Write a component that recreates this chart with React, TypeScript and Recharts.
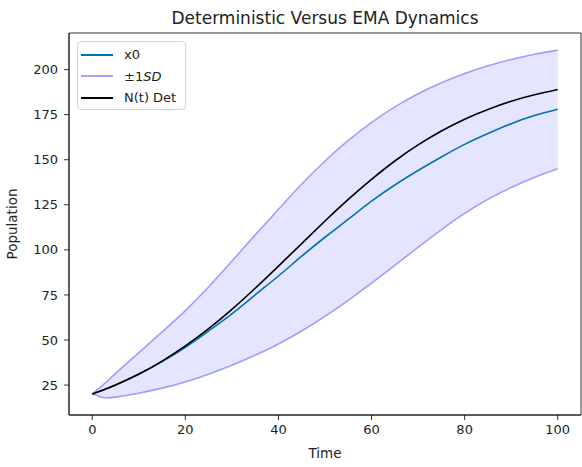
import React from "react";
import {
  ComposedChart,
  Area,
  Line,
  XAxis,
  YAxis,
  ReferenceArea,
} from "recharts";

// values
const times = [0, 2.5, 5, 10, 15, 20, 25, 30, 35, 40, 45, 50, 55, 60, 65, 70, 75, 80, 85, 90, 95, 100];
const detValues = [20, 22.4, 25, 31.1, 38.3, 46.7, 56.3, 67, 78.7, 91, 103.5, 116, 128, 139.1, 149.3, 158.2, 165.9, 172.5, 177.9, 182.4, 186, 189];
const x0Values = [20, 22.4, 25, 31, 38, 46, 55, 64.5, 75, 85.5, 96.5, 107, 117, 127, 136, 144, 151.5, 158.5, 164.5, 170, 174.5, 178];
const upperValues = [20, 25.5, 31.5, 43, 54.5, 66.3, 79.5, 93.8, 108.3, 122.5, 136.5, 149.3, 160.7, 170.7, 179.3, 186.6, 192.7, 197.8, 202.1, 205.6, 208.5, 210.8];
const lowerValues = [20, 18, 18.3, 20.5, 23.3, 26.7, 31, 36, 41.5, 47.8, 55, 63.1, 72, 81.5, 91.4, 101.4, 111.1, 120.2, 128, 134.6, 140.2, 145];

const xTicks = [0, 20, 40, 60, 80, 100];
const yTicks = [25, 50, 75, 100, 125, 150, 175, 200];

const X_DOMAIN: [number, number] = [-5, 105];
const Y_DOMAIN: [number, number] = [8.4, 220.3];

const BLUE = "#0173b2";
const BAND = "#0000ff";

const rows = times.map((t, i) => ({
  t,
  x0: x0Values[i],
  det: detValues[i],
  hi: upperValues[i],
  lo: lowerValues[i],
  band: [lowerValues[i], upperValues[i]],
}));

const font = "'DejaVu Sans', sans-serif";
const tickStyle = { fill: "#222", fontSize: 13, fontFamily: font };

function Handle({ color, opacity = 1 }: { color: string; opacity?: number }) {
  return (
    <svg width={32} height={4} style={{ display: "block" }}>
      <line x1={0} y1={2} x2={32} y2={2} stroke={color} strokeOpacity={opacity} strokeWidth={2} />
    </svg>
  );
}

function LegendBox() {
  const items = [
    { key: "x0", color: BLUE, opacity: 1, label: <span>x0</span> },
    {
      key: "sd",
      color: BAND,
      opacity: 0.35,
      label: (
        <span>
          ±1<i>SD</i>
        </span>
      ),
    },
    { key: "det", color: "#000", opacity: 1, label: <span>N(t) Det</span> },
  ];
  return (
    <div
      style={{
        position: "absolute",
        left: 77,
        top: 41,
        width: 107,
        height: 65,
        border: "1px solid #d5d5d5",
        borderRadius: 4,
        background: "rgba(255,255,255,0.8)",
        fontFamily: font,
        fontSize: 13,
        color: "#222",
        paddingTop: 2,
        boxSizing: "content-box",
      }}
    >
      {items.map((it) => (
        <div
          key={it.key}
          style={{ display: "flex", alignItems: "center", height: 21.5, paddingLeft: 3 }}
        >
          <Handle color={it.color} opacity={it.opacity} />
          <div style={{ marginLeft: 11 }}>{it.label}</div>
        </div>
      ))}
    </div>
  );
}

export default function App() {
  return (
    <div
      style={{
        position: "absolute",
        left: 0,
        top: 0,
        width: 582,
        height: 467,
        background: "#fff",
        fontFamily: font,
      }}
    >
      <div
        style={{
          position: "absolute",
          top: 8,
          left: 69,
          width: 512,
          textAlign: "center",
          fontSize: 17,
          color: "#222",
        }}
      >
        Deterministic Versus EMA Dynamics
      </div>
      <ComposedChart
        width={582}
        height={467}
        data={rows}
        margin={{ top: 33, right: 1, bottom: 0, left: 0 }}
      >
        <XAxis
          dataKey="t"
          type="number"
          domain={X_DOMAIN}
          ticks={xTicks}
          allowDataOverflow
          height={52}
          tickSize={5}
          tickMargin={5}
          tick={tickStyle}
          axisLine={{ stroke: "#000", strokeWidth: 0.8 }}
          tickLine={{ stroke: "#000", strokeWidth: 0.8 }}
          label={{ value: "Time", position: "insideBottom", offset: 9, fill: "#222", fontSize: 13.5, fontFamily: font }}
        />
        <YAxis
          type="number"
          domain={Y_DOMAIN}
          ticks={yTicks}
          allowDataOverflow
          width={69}
          tickSize={5}
          tickMargin={6}
          tick={tickStyle}
          axisLine={{ stroke: "#000", strokeWidth: 0.8 }}
          tickLine={{ stroke: "#000", strokeWidth: 0.8 }}
          label={{
            value: "Population",
            angle: -90,
            position: "insideLeft",
            offset: 12,
            style: { textAnchor: "middle" },
            fill: "#222",
            fontSize: 13.5,
            fontFamily: font,
          }}
        />

        {/* shaded ±1 SD band */}
        <Area
          dataKey="band"
          type="natural"
          stroke="none"
          fill={BAND}
          fillOpacity={0.1}
          isAnimationActive={false}
        />
        <Line dataKey="hi" type="natural" stroke={BAND} strokeOpacity={0.35} strokeWidth={1.6} dot={false} isAnimationActive={false} />
        <Line dataKey="lo" type="natural" stroke={BAND} strokeOpacity={0.35} strokeWidth={1.6} dot={false} isAnimationActive={false} />

        <Line dataKey="x0" type="natural" stroke={BLUE} strokeWidth={1.6} dot={false} isAnimationActive={false} />
        <Line dataKey="det" type="natural" stroke="#000" strokeWidth={1.6} dot={false} isAnimationActive={false} />

        {/* axes frame */}
        <ReferenceArea
          x1={X_DOMAIN[0]}
          x2={X_DOMAIN[1]}
          y1={Y_DOMAIN[0]}
          y2={Y_DOMAIN[1]}
          fill="none"
          stroke="#000"
          strokeWidth={0.8}
          ifOverflow="visible"
        />
      </ComposedChart>
      <LegendBox />
    </div>
  );
}
